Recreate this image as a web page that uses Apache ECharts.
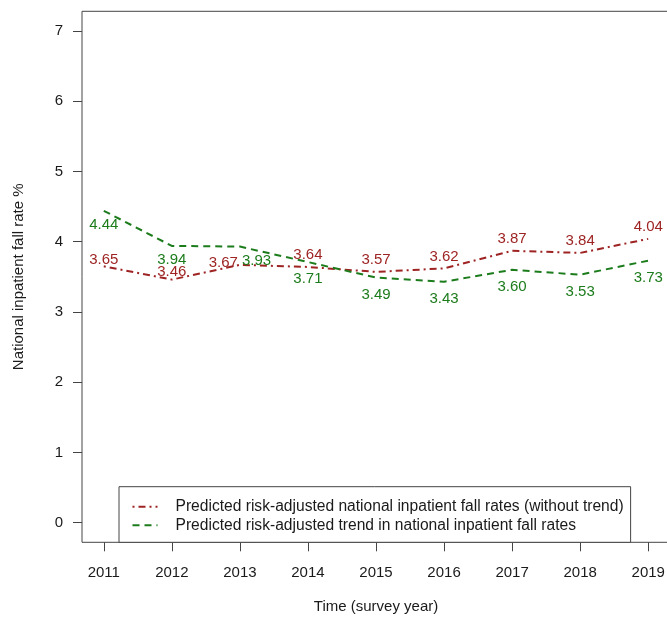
<!DOCTYPE html>
<html>
<head>
<meta charset="utf-8">
<script src="https://cdn.jsdelivr.net/npm/echarts@6/dist/echarts.min.js"></script>
<style>
  html, body { margin: 0; padding: 0; background: #fff; }
  #chart { width: 667px; height: 617px; }
</style>
</head>
<body>
<div id="chart"></div>
<script>
const years = [2011, 2012, 2013, 2014, 2015, 2016, 2017, 2018, 2019];
const withoutTrend = [3.65, 3.46, 3.67, 3.64, 3.57, 3.62, 3.87, 3.84, 4.04];
const withTrend = [4.44, 3.94, 3.93, 3.71, 3.49, 3.43, 3.60, 3.53, 3.73];
const yTicks = [0, 1, 2, 3, 4, 5, 6, 7];
const nameWithout = 'Predicted risk-adjusted national inpatient fall rates (without trend)';
const nameTrend = 'Predicted risk-adjusted trend in national inpatient fall rates';

const RED = '#9e2424';
const GREEN = '#1c7c1c';
const FONT = '"Liberation Sans", Arial, sans-serif';

// label placement tweaks (styling only)
const redLabelTweaks = {
  0: { position: 'top', distance: 1.5 },
  1: { position: 'top', distance: 2.5 },
  2: { position: 'left', distance: 2, offset: [0, -2] }
};
const greenLabelTweaks = {
  0: { position: 'bottom', distance: 4.5 },
  1: { position: 'bottom', distance: 3.5 },
  2: { position: 'right', distance: 2, offset: [0, 14] }
};

function buildData(values, tweaks) {
  return values.map((v, i) => {
    const item = { value: [years[i], v] };
    if (tweaks[i]) item.label = tweaks[i];
    return item;
  });
}

const chart = echarts.init(document.getElementById('chart'), null, { renderer: 'canvas' });
chart.setOption({
  animation: false,
  backgroundColor: '#fff',
  textStyle: { fontFamily: FONT },
  grid: {
    left: 82, top: 11.3, width: 588, height: 531,
    containLabel: false, outerBoundsMode: 'none',
    show: true, borderColor: '#444', borderWidth: 1, backgroundColor: 'transparent'
  },
  xAxis: {
    type: 'value', min: 2010.68, max: 2019.32,
    name: 'Time (survey year)', nameLocation: 'middle', nameGap: 57,
    nameTextStyle: { fontSize: 15, color: '#1a1a1a', fontFamily: FONT },
    axisLine: { show: false, onZero: false },
    axisTick: { show: true, customValues: years, length: 9, lineStyle: { color: '#444', width: 1 } },
    axisLabel: { customValues: years, formatter: v => String(v), fontSize: 15, color: '#1a1a1a', margin: 23, fontFamily: FONT },
    splitLine: { show: false }
  },
  yAxis: {
    type: 'value', min: -0.28, max: 7.28,
    name: 'National inpatient fall rate %', nameLocation: 'middle', nameGap: 56,
    nameTextStyle: { fontSize: 15, color: '#1a1a1a', fontFamily: FONT },
    axisLine: { show: false, onZero: false },
    axisTick: { show: true, customValues: yTicks, length: 9, lineStyle: { color: '#444', width: 1 } },
    axisLabel: { customValues: yTicks, formatter: v => String(v), fontSize: 15, color: '#1a1a1a', margin: 19, padding: [4, 0, 0, 0], fontFamily: FONT },
    splitLine: { show: false }
  },
  legend: {
    orient: 'vertical',
    left: 119, top: 486.7,
    padding: [12, 7, 9, 12.5],
    itemWidth: 25, itemHeight: 14, itemGap: 2.6,
    borderColor: '#444', borderWidth: 1, backgroundColor: '#fff',
    textStyle: { fontSize: 15.6, color: '#1a1a1a', fontFamily: FONT, lineHeight: 16, padding: [0, 0, 0, 13] },
    itemStyle: { opacity: 0 },
    data: [nameWithout, nameTrend]
  },
  series: [
    {
      name: nameWithout, type: 'line',
      data: buildData(withoutTrend, redLabelTweaks),
      symbol: 'circle', symbolSize: 0, showSymbol: true,
      itemStyle: { color: RED },
      lineStyle: { color: RED, width: 2, type: [2, 4, 7, 4] },
      label: {
        show: true, position: 'top', distance: 7, offset: [0, 2.5],
        formatter: p => p.value[1].toFixed(2),
        fontSize: 15, color: RED, fontFamily: FONT
      },
      emphasis: { disabled: true }
    },
    {
      name: nameTrend, type: 'line',
      data: buildData(withTrend, greenLabelTweaks),
      symbol: 'circle', symbolSize: 0, showSymbol: true,
      itemStyle: { color: GREEN },
      lineStyle: { color: GREEN, width: 2, type: [7, 5] },
      label: {
        show: true, position: 'bottom', distance: 7, offset: [0, 2.5],
        formatter: p => p.value[1].toFixed(2),
        fontSize: 15, color: GREEN, fontFamily: FONT
      },
      emphasis: { disabled: true }
    }
  ]
});
</script>
</body>
</html>
